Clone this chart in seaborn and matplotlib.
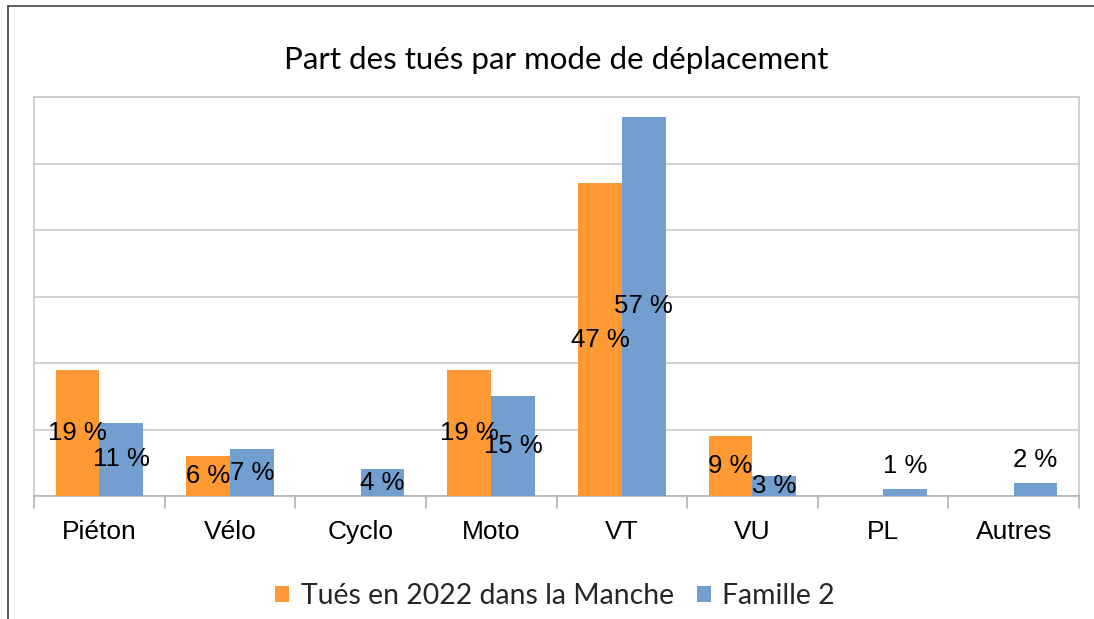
import matplotlib
matplotlib.use("Agg")
import matplotlib.pyplot as plt
import seaborn as sns
import pandas as pd
from matplotlib.patches import Patch
from matplotlib.lines import Line2D

categories = ["Piéton", "Vélo", "Cyclo", "Moto", "VT", "VU", "PL", "Autres"]
series_names = ["Tués en 2022 dans la Manche", "Famille 2"]
tues_2022 = [19, 6, 0, 19, 47, 9, 0, 0]
famille_2 = [11, 7, 4, 15, 57, 3, 1, 2]
title = "Part des tués par mode de déplacement"
colors = ["#FF9933", "#729FCF"]

df = pd.DataFrame({
    "cat": categories * 2,
    "serie": [series_names[0]] * len(categories) + [series_names[1]] * len(categories),
    "val": tues_2022 + famille_2,
})

sns.set_theme(style="white")
plt.rcParams["font.family"] = ["Liberation Sans", "DejaVu Sans"]

fig = plt.figure(figsize=(10.94, 6.19), dpi=100)
ax = fig.add_axes([34 / 1094, 1 - 496 / 619, (1079 - 34) / 1094, (496 - 97) / 619])

sns.barplot(data=df, x="cat", y="val", hue="serie", palette=colors,
            width=0.67, saturation=1, ax=ax, legend=False, zorder=3, linewidth=0)

ax.set_ylim(0, 60)
ax.set_xlim(-0.5, len(categories) - 0.5)
ax.set_yticks(range(0, 61, 10))
ax.set_yticklabels([])
ax.tick_params(axis="y", length=0)
ax.grid(axis="y", color="#c8c8c8", linewidth=1.2, zorder=0)
ax.set_axisbelow(True)
ax.set_xlabel("")
ax.set_ylabel("")
for s in ["left", "right", "top"]:
    ax.spines[s].set_color("#c8c8c8")
    ax.spines[s].set_linewidth(1.2)
ax.spines["bottom"].set_color("#b3b3b3")
ax.spines["bottom"].set_linewidth(1.2)

LBL = 18.5
ax.set_xticks(range(len(categories)))
ax.set_xticklabels(categories, fontsize=19)
ax.tick_params(axis="x", length=0, pad=17, colors="black")
for b in [i - 0.5 for i in range(len(categories) + 1)]:
    ax.add_line(Line2D([b, b], [0, -0.03], transform=ax.get_xaxis_transform(),
                       color="#b3b3b3", linewidth=1.2, clip_on=False))

# data labels
for container, vals in zip(ax.containers, [tues_2022, famille_2]):
    for bar, v in zip(container, vals):
        if v == 0:
            continue
        xc = bar.get_x() + bar.get_width() / 2
        if v <= 2:
            ax.annotate(f"{v} %", (xc, v), xytext=(0, 16.5), textcoords="offset points",
                        ha="center", va="center", fontsize=LBL, color="black", zorder=5)
        else:
            ax.text(xc, v / 2, f"{v} %", ha="center", va="center", fontsize=LBL,
                    color="black", zorder=5)

fig.text(556 / 1094, 1 - 60 / 619, title, ha="center", va="center",
         fontsize=22.5, family=["Lato", "DejaVu Sans"], color="black")

handles = [Patch(facecolor=c, edgecolor="none") for c in colors]
fig.legend(handles, series_names, loc="center", bbox_to_anchor=(555 / 1094, 1 - 596 / 619),
           ncol=2, frameon=False, prop={"family": ["Lato", "DejaVu Sans"], "size": 20.4},
           handlelength=0.5, handleheight=0.5, handletextpad=0.4, columnspacing=0.8)

# outer frame
fig.add_artist(Line2D([8 / 1094, 8 / 1094], [0, 1 - 6 / 619], transform=fig.transFigure,
                      color="#444444", linewidth=1.2))
fig.add_artist(Line2D([8 / 1094, 1], [1 - 6 / 619, 1 - 6 / 619], transform=fig.transFigure,
                      color="#444444", linewidth=1.2))

fig.savefig("out.png", dpi=100)
